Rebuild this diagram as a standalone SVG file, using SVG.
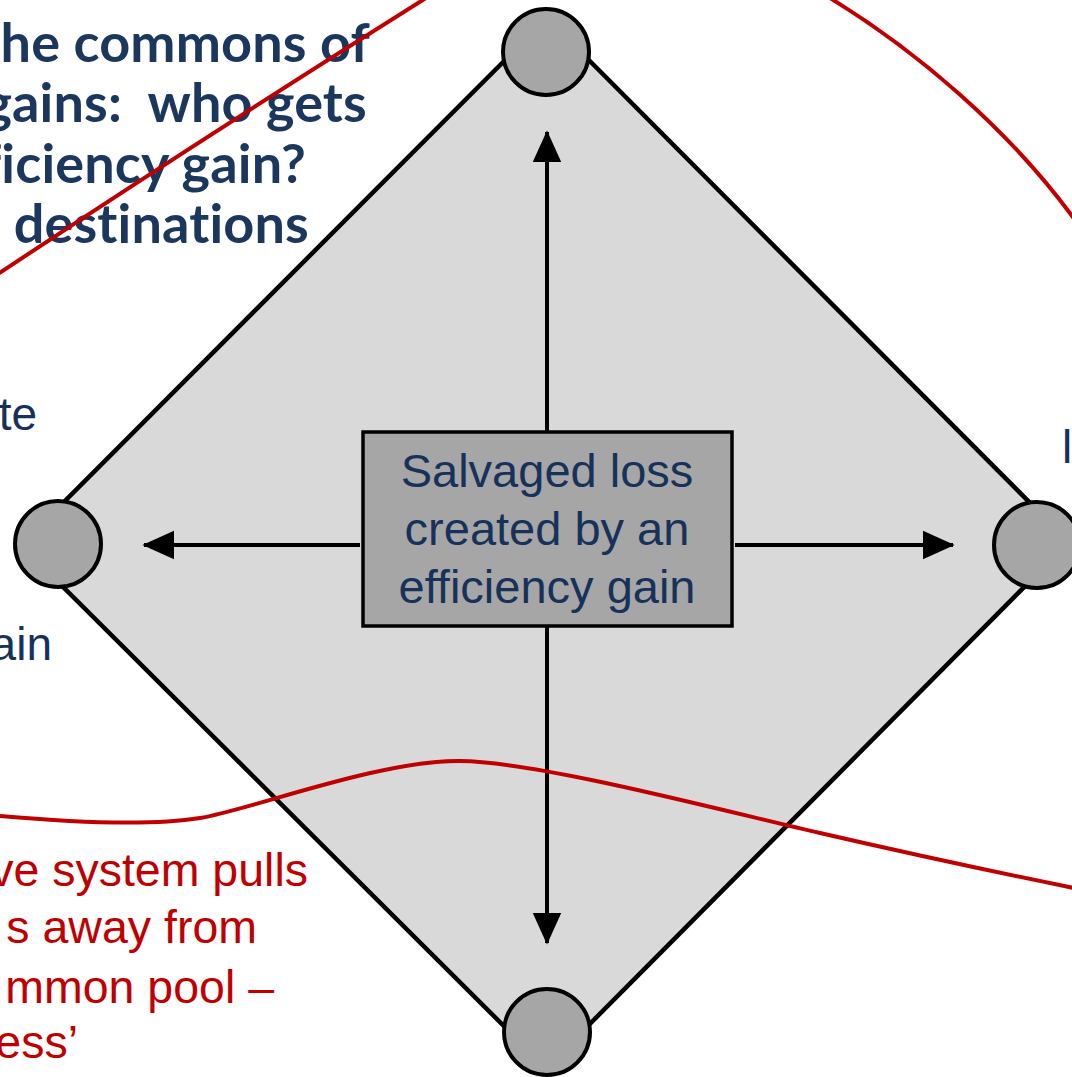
<svg xmlns="http://www.w3.org/2000/svg" width="1072" height="1077" viewBox="0 0 1072 1077">
  <defs>
    <marker id="ah" markerWidth="8" markerHeight="8" refX="7.6" refY="3.6" orient="auto" markerUnits="strokeWidth" viewBox="0 0 8 7.2">
      <path d="M0,0 L8,3.6 L0,7.2 Z" fill="#000"/>
    </marker>
    <style>
      .title { font-family: Lato, "Open Sans", sans-serif; font-weight: bold; font-size: 54px; letter-spacing: 0.15px; fill: #1b375e; text-anchor: end; white-space: pre; font-variant-ligatures: none; }
      .lbl { font-family: "Liberation Sans", Arial, sans-serif; font-size: 46px; fill: #17325a; }
      .red { font-family: "Liberation Sans", Arial, sans-serif; font-size: 46.5px; fill: #c00000; text-anchor: end; }
      .box { font-family: "Liberation Sans", Arial, sans-serif; font-size: 47px; fill: #17325a; text-anchor: middle; }
      .node { fill: #a6a6a6; stroke: #000; stroke-width: 4; }
      .arrow { stroke: #000; stroke-width: 4; fill: none; marker-end: url(#ah); }
      .redline { stroke: #c00000; stroke-width: 4; fill: none; }
    </style>
  </defs>
  <rect width="1072" height="1077" fill="#ffffff"/>

  <g id="title">
    <text class="title" x="370" y="62">he commons of</text>
    <text class="title" x="367" y="122" xml:space="preserve">gains:  who gets</text>
    <text class="title" x="306" y="183">ficiency gain?</text>
    <text class="title" x="309" y="243">destinations</text>
  </g>

  <g id="side-labels">
    <text class="lbl" x="37" y="430" text-anchor="end">te</text>
    <text class="lbl" x="52" y="660" text-anchor="end">ain</text>
    <text class="lbl" x="1062" y="463">l</text>
  </g>

  <g id="diamond">
    <polygon points="547,18 1069,542 546,1068 21,545" fill="#d9d9d9" stroke="#000" stroke-width="4.5" stroke-linejoin="miter"/>
  </g>

  <g id="connectors">
    <line class="arrow" x1="547" y1="431" x2="547" y2="132"/>
    <line class="arrow" x1="547" y1="627" x2="547" y2="943"/>
    <line class="arrow" x1="360" y1="545" x2="144" y2="545"/>
    <line class="arrow" x1="735" y1="545" x2="953" y2="545"/>
  </g>

  <g id="node-top"><circle class="node" cx="546" cy="52" r="43"/></g>
  <g id="node-left"><circle class="node" cx="58" cy="544" r="43"/></g>
  <g id="node-right"><circle class="node" cx="1037" cy="545" r="43"/></g>
  <g id="node-bottom"><circle class="node" cx="547" cy="1032" r="43"/></g>

  <g id="center">
    <rect x="363" y="432" width="369" height="194" fill="#a6a6a6" stroke="#000" stroke-width="3.5"/>
    <text class="box" x="547" y="487">Salvaged loss</text>
    <text class="box" x="547" y="545">created by an</text>
    <text class="box" x="547" y="603">efficiency gain</text>
  </g>

  <g id="red-curves">
    <path class="redline" d="M -5 276 Q 200 140 426 -2"/>
    <path class="redline" d="M 830 -2 C 915 50 1008 128 1075 220"/>
    <path class="redline" d="M 0 816 C 80 823 150 826 200 818 S 380 760 460 761 S 720 810 820 833 S 990 871 1074 888"/>
  </g>

  <g id="red-text">
    <text class="red" x="308" y="886">ve system pulls</text>
    <text class="red" x="257" y="943">s away from</text>
    <text class="red" x="274" y="1003">mmon pool –</text>
    <text class="red" x="78" y="1058">ess’</text>
  </g>
</svg>
